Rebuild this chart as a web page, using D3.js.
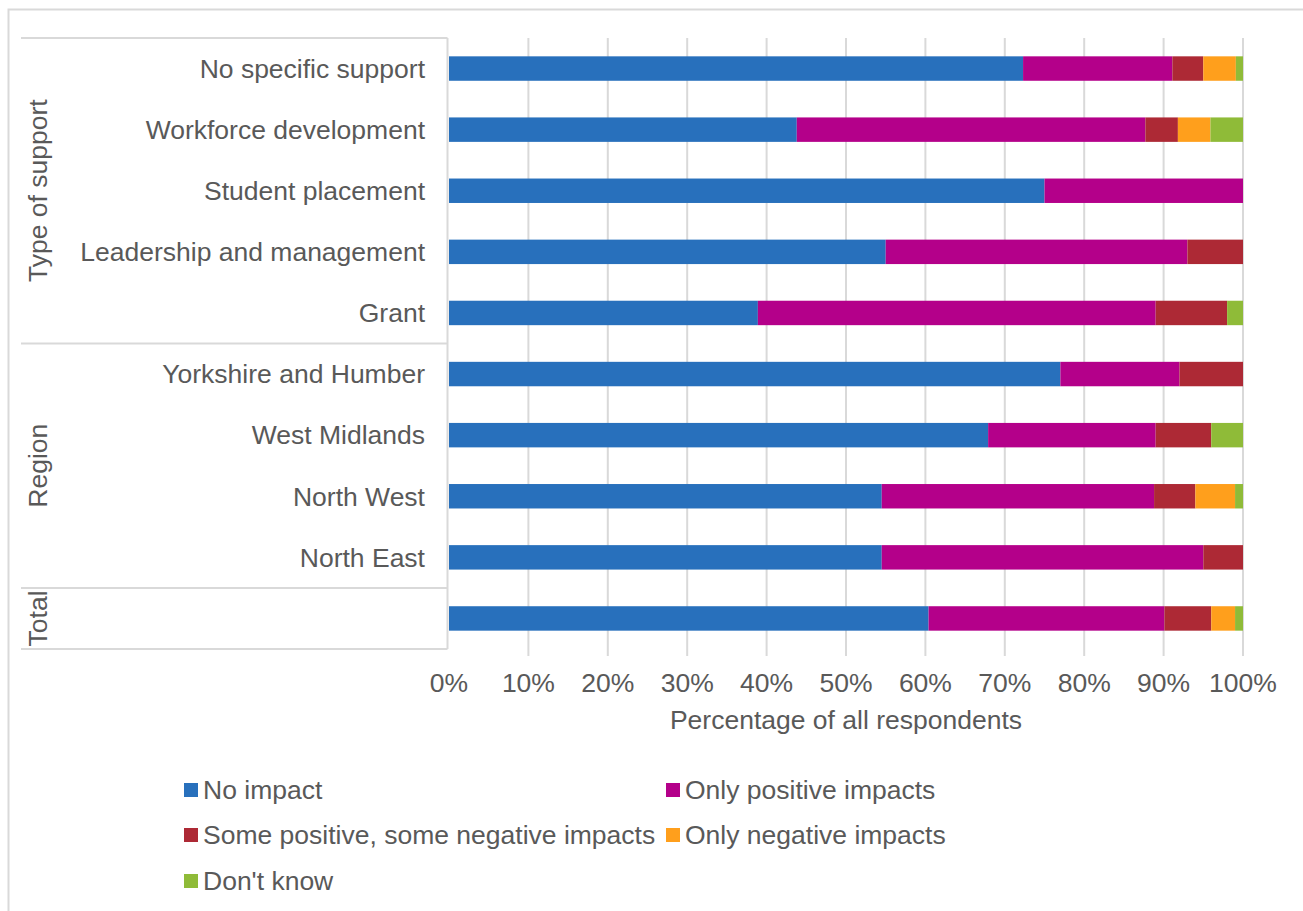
<!DOCTYPE html>
<html>
<head>
<meta charset="utf-8">
<script src="https://cdn.jsdelivr.net/npm/d3@7"></script>
<style>
  html, body { margin: 0; padding: 0; background: #ffffff; }
  svg { display: block; }
  text { font-family: "Liberation Sans", Arial, sans-serif; fill: #595959; }
</style>
</head>
<body>
<svg id="chart" width="1303" height="911"></svg>
<script>
// Rows, top to bottom
const categories = [
  "No specific support", "Workforce development", "Student placement",
  "Leadership and management", "Grant",
  "Yorkshire and Humber", "West Midlands", "North West", "North East",
  "Total"
];
const rowLabels = [
  "No specific support", "Workforce development", "Student placement",
  "Leadership and management", "Grant",
  "Yorkshire and Humber", "West Midlands", "North West", "North East",
  ""
];
// Outer grouping of the rows
const groups = [
  { name: "Type of support", first: 0, last: 4 },
  { name: "Region", first: 5, last: 8 },
  { name: "Total", first: 9, last: 9 }
];

// Series (percent of respondents), one value per row
const seriesNames = ["No impact", "Only positive impacts", "Some positive, some negative impacts", "Only negative impacts", "Don't know"];
const noImpact      = [72.3, 43.8, 75.0, 55.0, 38.9, 77.0, 67.9, 54.5, 54.5, 60.4];
const onlyPositive  = [18.8, 43.9, 25.0, 38.0, 50.1, 15.0, 21.1, 34.3, 40.5, 29.7];
const mixedImpacts  = [ 3.9,  4.1,  0.0,  7.0,  9.0,  8.0,  7.0,  5.2,  5.0,  5.9];
const onlyNegative  = [ 4.1,  4.1,  0.0,  0.0,  0.0,  0.0,  0.0,  5.0,  0.0,  3.0];
const dontKnow      = [ 0.9,  4.1,  0.0,  0.0,  2.0,  0.0,  4.0,  1.0,  0.0,  1.0];
const seriesColors  = ["#2870bc", "#b4008a", "#ad2935", "#ff9f1c", "#8fbb38"];
const xTicks = [0, 10, 20, 30, 40, 50, 60, 70, 80, 90, 100];

const seriesValues = [noImpact, onlyPositive, mixedImpacts, onlyNegative, dontKnow];

const svg = d3.select("#chart");
const FONT = 26.5;
const gridColor = "#d9d9d9";

// Chart area frame
svg.append("rect")
  .attr("x", 8.5).attr("y", 9.5)
  .attr("width", 1400).attr("height", 1000)
  .attr("fill", "#ffffff")
  .attr("stroke", gridColor).attr("stroke-width", 2);

const plot = { left: 449, right: 1243, top: 38, bottom: 649 };

const x = d3.scaleLinear().domain([0, 100]).range([plot.left, plot.right]);
const y = d3.scaleBand()
  .domain(categories.map((d, i) => i))
  .range([plot.top, plot.bottom])
  .paddingInner(0.6)
  .paddingOuter(0.3);

// Vertical gridlines
svg.append("g")
  .selectAll("line")
  .data(xTicks.slice(1))
  .join("line")
  .attr("x1", d => x(d)).attr("x2", d => x(d))
  .attr("y1", plot.top).attr("y2", plot.bottom + 7)
  .attr("stroke", gridColor).attr("stroke-width", 2);

// Stacked bars
const stackRows = categories.map((c, i) => {
  const row = { idx: i };
  seriesNames.forEach((s, k) => { row[s] = seriesValues[k][i]; });
  return row;
});
const stacked = d3.stack().keys(seriesNames)(stackRows);

svg.append("g")
  .selectAll("g")
  .data(stacked)
  .join("g")
  .attr("fill", (d, k) => seriesColors[k])
  .selectAll("rect")
  .data(d => d.filter(p => p[1] - p[0] > 0))
  .join("rect")
  .attr("x", p => x(p[0]))
  .attr("width", p => x(p[1]) - x(p[0]))
  .attr("y", p => y(p.data.idx))
  .attr("height", y.bandwidth());

// Category axis line and group separators
const axisX = plot.left - 1.5;
svg.append("line")
  .attr("x1", axisX).attr("x2", axisX)
  .attr("y1", plot.top).attr("y2", plot.bottom)
  .attr("stroke", gridColor).attr("stroke-width", 2);

const step = y.step();
const boundaries = [plot.top];
groups.forEach(g => boundaries.push(plot.top + (g.last + 1) * step));
svg.append("g")
  .selectAll("line")
  .data(boundaries)
  .join("line")
  .attr("x1", 21).attr("x2", axisX)
  .attr("y1", d => d).attr("y2", d => d)
  .attr("stroke", gridColor).attr("stroke-width", 2);

// Row labels
svg.append("g")
  .selectAll("text")
  .data(rowLabels)
  .join("text")
  .attr("x", 425)
  .attr("y", (d, i) => y(i) + y.bandwidth() / 2)
  .attr("dy", "0.35em")
  .attr("text-anchor", "end")
  .attr("font-size", FONT)
  .text(d => d);

// Group labels, rotated
svg.append("g")
  .selectAll("text")
  .data(groups)
  .join("text")
  .attr("transform", g => {
    const cy = plot.top + (g.first + (g.last + 1)) / 2 * step;
    return `translate(38,${cy}) rotate(-90)`;
  })
  .attr("dy", "0.35em")
  .attr("text-anchor", "middle")
  .attr("font-size", FONT)
  .text(g => g.name);

// Value axis tick labels
svg.append("g")
  .selectAll("text")
  .data(xTicks)
  .join("text")
  .attr("x", d => x(d))
  .attr("y", 683)
  .attr("dy", "0.35em")
  .attr("text-anchor", "middle")
  .attr("font-size", FONT)
  .text(d => d + "%");

svg.append("text")
  .attr("x", (plot.left + plot.right) / 2)
  .attr("y", 720)
  .attr("dy", "0.35em")
  .attr("text-anchor", "middle")
  .attr("font-size", FONT)
  .text("Percentage of all respondents");

// Legend
const legendPos = [
  { x: 184, y: 790 }, { x: 666, y: 790 },
  { x: 184, y: 835 }, { x: 666, y: 835 },
  { x: 184, y: 881 }
];
const legend = svg.append("g")
  .selectAll("g")
  .data(seriesNames)
  .join("g")
  .attr("transform", (d, k) => `translate(${legendPos[k].x},${legendPos[k].y})`);
legend.append("rect")
  .attr("x", 0).attr("y", -7)
  .attr("width", 14).attr("height", 14)
  .attr("fill", (d, k) => seriesColors[k]);
legend.append("text")
  .attr("x", 19)
  .attr("dy", "0.35em")
  .attr("font-size", FONT)
  .text(d => d);
</script>
</body>
</html>
